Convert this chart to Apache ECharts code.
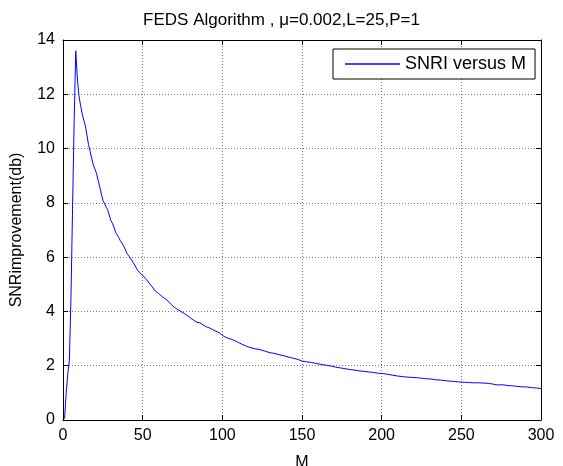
<!DOCTYPE html>
<html>
<head>
<meta charset="utf-8">
<script src="https://cdn.jsdelivr.net/npm/echarts@6/dist/echarts.min.js"></script>
<style>html,body{margin:0;padding:0;background:#fff;overflow:hidden;}#c{width:563px;height:466px;}</style>
</head>
<body>
<div id="c"></div>
<script>
const titleText = 'FEDS Algorithm , \u03bc=0.002,L=25,P=1';
const seriesName = 'SNRI versus M';
const xName = 'M';
const yName = 'SNRimprovement(db)';
const xTicks = [0, 50, 100, 150, 200, 250, 300];
const yTicks = [0, 2, 4, 6, 8, 10, 12, 14];

const mValues = [1,2,3,4,5,6,7,8,9,10,11,12,13,14,15,16,17,18,19,20,21,22,23,24,25,26,27,28,29,30,
  31,32,33,34,35,36,37,38,39,40,41,42,43,44,45,46,47,48,50,52,54,56,58,60,62,64,66,68,70,72,74,76,78,80,
  82,84,86,88,90,92,94,96,98,100,102,104,106,108,110,112,115,118,121,124,127,130,133,136,139,142,145,148,
  150,153,156,159,162,165,168,171,174,177,180,183,186,189,192,195,198,201,204,207,210,213,216,219,222,225,
  228,231,234,237,240,243,246,249,252,255,258,261,264,267,270,273,276,279,282,285,288,291,294,297,300];
const snri = [0.05,1.0,1.7,2.2,4.5,7.8,11.0,13.6,12.6,11.95,11.6,11.3,11.05,10.85,10.5,10.15,9.9,9.65,9.4,9.25,
  9.09,8.85,8.6,8.35,8.1,7.98,7.85,7.75,7.55,7.35,7.25,7.1,6.92,6.82,6.72,6.6,6.52,6.42,6.3,6.15,
  6.07,6.0,5.9,5.8,5.71,5.6,5.5,5.46,5.33,5.2,5.05,4.9,4.75,4.66,4.56,4.47,4.38,4.25,4.15,4.07,4.0,3.93,3.85,3.76,
  3.68,3.6,3.58,3.5,3.43,3.39,3.33,3.27,3.22,3.12,3.05,3.0,2.97,2.92,2.86,2.8,2.72,2.66,2.62,2.59,2.53,2.48,2.45,2.4,2.36,2.31,2.27,2.22,
  2.17,2.14,2.12,2.08,2.05,2.02,1.99,1.95,1.92,1.89,1.86,1.84,1.81,1.79,1.77,1.75,1.72,1.71,1.68,1.65,1.62,1.6,1.58,1.57,1.56,1.54,
  1.52,1.51,1.48,1.47,1.45,1.43,1.42,1.40,1.39,1.38,1.37,1.37,1.36,1.35,1.32,1.29,1.30,1.27,1.26,1.24,1.22,1.22,1.19,1.18,1.16];

const FONT = 'Liberation Sans, Arial, sans-serif';
const data = mValues.map((m, i) => [m, snri[i]]);
const xMin = xTicks[0], xMax = xTicks[xTicks.length - 1], xInt = xTicks[1] - xTicks[0];
const yMin = yTicks[0], yMax = yTicks[yTicks.length - 1], yInt = yTicks[1] - yTicks[0];

const chart = echarts.init(document.getElementById('c'), null, {renderer: 'canvas', width: 563, height: 466});
const axisLine = {show: true, onZero: false, lineStyle: {color: '#000', width: 1}};
const tick = {show: true, inside: true, length: 5, lineStyle: {color: '#000'}};
chart.setOption({
  animation: false,
  backgroundColor: '#fff',
  textStyle: {fontFamily: FONT},
  title: {
    text: titleText, left: 'center', top: 12, padding: 0,
    textStyle: {fontSize: 17, fontWeight: 'normal', color: '#000', fontFamily: FONT}
  },
  legend: {
    show: true, left: 333, top: 49, orient: 'horizontal',
    backgroundColor: '#fff', borderColor: '#000', borderWidth: 1, borderRadius: 0,
    padding: [6, 9, 6, 12], itemWidth: 55, itemHeight: 1.5, itemGap: 6,
    icon: 'rect',
    textStyle: {fontSize: 18, fontFamily: FONT, color: '#000', padding: [0, 0, 0, 0]},
    data: [{name: seriesName, icon: 'rect'}]
  },
  grid: {left: 63, right: 22, top: 40, bottom: 46, containLabel: false, outerBoundsMode: 'none'},
  xAxis: [{
    type: 'value', min: xMin, max: xMax, interval: xInt, position: 'bottom',
    name: xName, nameLocation: 'middle', nameGap: 35,
    nameTextStyle: {fontSize: 16, color: '#000', fontFamily: FONT},
    axisLine: axisLine, axisTick: tick,
    axisLabel: {fontSize: 16, color: '#000', margin: 8, fontFamily: FONT},
    splitLine: {show: true, lineStyle: {color: '#777', type: [1, 2], width: 1}}
  }, {
    type: 'value', min: xMin, max: xMax, interval: xInt, position: 'top',
    axisLine: axisLine, axisTick: tick, axisLabel: {show: false}, splitLine: {show: false}
  }],
  yAxis: [{
    type: 'value', min: yMin, max: yMax, interval: yInt, position: 'left',
    name: yName, nameLocation: 'middle', nameGap: 38, nameRotate: 90,
    nameTextStyle: {fontSize: 16, color: '#000', fontFamily: FONT},
    axisLine: axisLine, axisTick: tick,
    axisLabel: {fontSize: 16, color: '#000', margin: 8, fontFamily: FONT},
    splitLine: {show: true, lineStyle: {color: '#777', type: [1, 2], width: 1}}
  }, {
    type: 'value', min: yMin, max: yMax, interval: yInt, position: 'right',
    axisLine: axisLine, axisTick: tick, axisLabel: {show: false}, splitLine: {show: false}
  }],
  series: [{
    name: seriesName, type: 'line', data: data, xAxisIndex: 0, yAxisIndex: 0,
    showSymbol: false, symbol: 'none', smooth: false,
    lineStyle: {color: '#0000ff', width: 1}, itemStyle: {color: '#0000ff'}
  }]
});
</script>
</body>
</html>
